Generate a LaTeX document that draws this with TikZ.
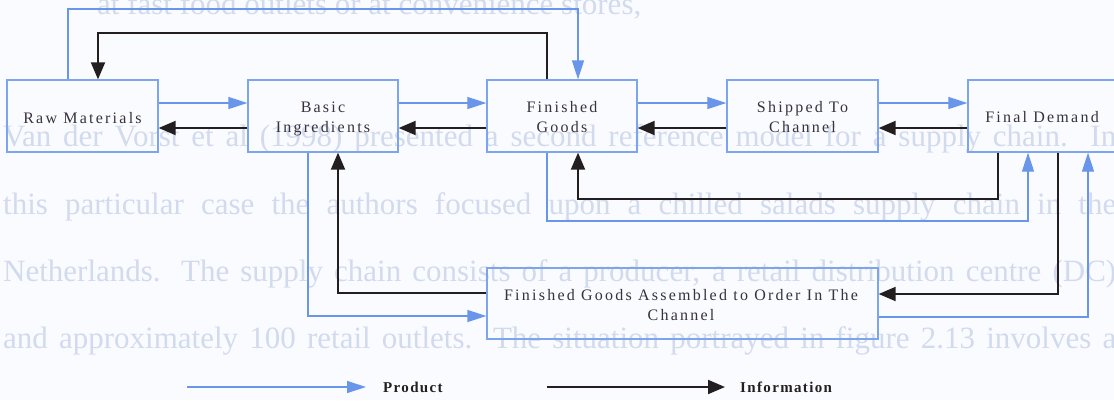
\documentclass[tikz,border=0pt]{standalone}
\usepackage{fontspec}
\setmainfont{Liberation Serif}
\newfontfamily\lblfont[LetterSpace=14]{Liberation Serif}
\newfontfamily\legfont[LetterSpace=9]{Liberation Serif}
\usetikzlibrary{arrows.meta}
\definecolor{pblue}{RGB}{105,150,235}
\definecolor{bblue}{RGB}{125,165,238}
\definecolor{ink}{RGB}{35,30,32}
\definecolor{txt}{RGB}{55,50,60}
\definecolor{ghost}{RGB}{210,218,238}
\definecolor{paper}{RGB}{250,251,254}
\begin{document}
\begin{tikzpicture}[x=1pt,y=-1pt,
  box/.style={draw=bblue,line width=1.3pt,minimum height=72pt,inner sep=0pt},
  lbl/.style={font=\lblfont\fontsize{16}{20}\selectfont,text=txt,align=center,inner sep=0pt},
  leg/.style={font=\legfont\bfseries\fontsize{15}{18}\selectfont,text=ink,inner sep=0pt,anchor=base west},
  ghosttxt/.style={font=\fontsize{31}{34}\selectfont,text=ghost,inner sep=0pt,anchor=base west},
  prod/.style={draw=pblue,line width=1.3pt,-{Triangle[length=19pt,width=12pt]}},
  info/.style={draw=ink,line width=1.9pt,-{Triangle[length=17pt,width=14pt]}}]
\fill[paper] (0,0) rectangle (1114,400);
\useasboundingbox (0,0) rectangle (1114,400);
\clip (0,0) rectangle (1114,400);
% faint show-through text of the scanned page
\node[ghosttxt] (g1) at (97,14) {at fast food outlets or at convenience stores,};
\node[ghosttxt] (g2) at (3,146) {\makebox[1113pt][s]{Van der Vorst et al (1998) presented a second reference model for a supply chain. In}};
\node[ghosttxt] (g3) at (3,214) {\makebox[1113pt][s]{this particular case the authors focused upon a chilled salads supply chain in the}};
\node[ghosttxt] (g4) at (3,281) {\makebox[1113pt][s]{Netherlands. The supply chain consists of a producer, a retail distribution centre (DC)}};
\node[ghosttxt] (g5) at (3,348) {\makebox[1113pt][s]{and approximately 100 retail outlets. The situation portrayed in figure 2.13 involves a}};
% boxes
\node[box,minimum width=151pt] (rm) at (82.5,116) {};
\node[box,minimum width=150pt] (bi) at (323,116) {};
\node[box,minimum width=150pt] (fg) at (562,116) {};
\node[box,minimum width=151pt] (sc) at (802.5,116) {};
\node[box,minimum width=149pt] (fd) at (1042.5,116) {};
\node[box,minimum width=391pt,minimum height=71pt] (fga) at (682.5,303.5) {};
% labels
\node[lbl] (trm) at (82.5,119) {\strut Raw Materials};
\node[lbl] (tbi) at (323,118) {\strut Basic\\\strut Ingredients};
\node[lbl] (tfg) at (562,118) {\strut Finished\\\strut Goods};
\node[lbl] (tsc) at (802.5,118) {\strut Shipped To\\\strut Channel};
\node[lbl] (tfd) at (1042,118) {\strut Final Demand};
\node[lbl] (tfga) at (681,306) {\strut Finished Goods Assembled to Order In The\\\strut Channel};
% level coordinates
\coordinate (yP) at (0,103);
\coordinate (yI) at (0,128);
% horizontal flows
\draw[prod] (rm.east|-yP) -- (bi.west|-yP);
\draw[info] (bi.west|-yI) -- (rm.east|-yI);
\draw[prod] (bi.east|-yP) -- (fg.west|-yP);
\draw[info] (fg.west|-yI) -- (bi.east|-yI);
\draw[prod] (fg.east|-yP) -- (sc.west|-yP);
\draw[info] (sc.west|-yI) -- (fg.east|-yI);
\draw[prod] (sc.east|-yP) -- (fd.west|-yP);
\draw[info] (fd.west|-yI) -- (sc.east|-yI);
% top loops
\coordinate (a1) at (68,9); \coordinate (a2) at (578,9);
\draw[prod] (rm.north-|a1) -- (a1) -- (a2) -- (fg.north-|a2);
\coordinate (b1) at (547,33); \coordinate (b2) at (98,33);
\draw[info] (fg.north-|b1) -- (b1) -- (b2) -- (rm.north-|b2);
% lower loops
\coordinate (c1) at (998,199); \coordinate (c2) at (578,199);
\draw[info] (fd.south-|c1) -- (c1) -- (c2) -- (fg.south-|c2);
\coordinate (d1) at (547,221); \coordinate (d2) at (1028,221);
\draw[prod] (fg.south-|d1) -- (d1) -- (d2) -- (fd.south-|d2);
\coordinate (e1) at (1058,294);
\draw[info] (fd.south-|e1) -- (e1) -- (fga.east|-e1);
\coordinate (f1) at (1088,317);
\draw[prod] (fga.east|-f1) -- (f1) -- (fd.south-|f1);
\coordinate (h2) at (338,293);
\draw[info] (fga.west|-h2) -- (h2) -- (bi.south-|h2);
\coordinate (h1) at (308,316);
\draw[prod] (bi.south-|h1) -- (h1) -- (fga.west|-h1);
% legend
\coordinate (lp0) at (187,387); \coordinate (lp1) at (366,387);
\draw[prod] (lp0) -- (lp1);
\node[leg] (lprod) at (383,392) {Product};
\coordinate (li0) at (547,387); \coordinate (li1) at (725,387);
\draw[info] (li0) -- (li1);
\node[leg] (linfo) at (740,392) {Information};
\end{tikzpicture}
\end{document}
